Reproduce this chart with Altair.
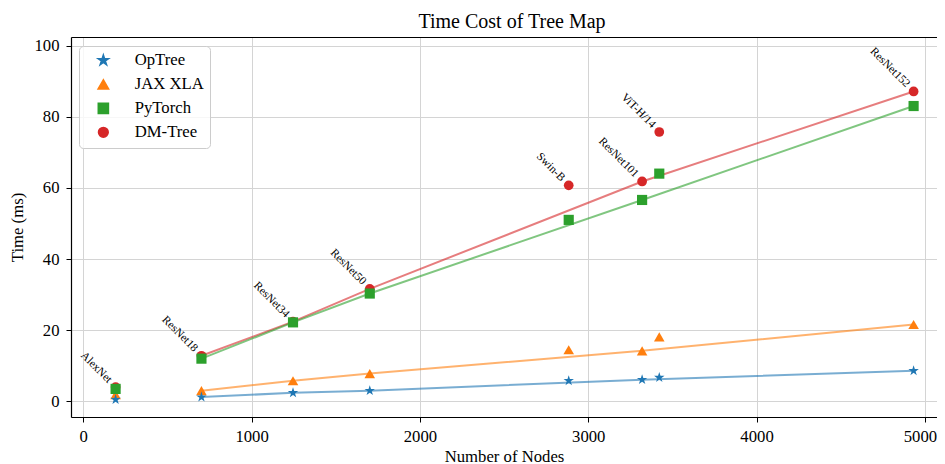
import altair as alt
import pandas as pd

# ---- data ----
models = ["AlexNet", "ResNet18", "ResNet34", "ResNet50", "Swin-B", "ResNet101", "ViT-H/14", "ResNet152"]
nodes = [192, 702, 1246, 1702, 2884, 3320, 3422, 4933]
optree = [0.5, 1.2, 2.4, 3.0, 5.8, 6.1, 6.7, 8.6]
jax_xla = [1.9, 3.0, 5.8, 7.8, 14.5, 14.2, 18.1, 21.6]
pytorch = [3.5, 12.0, 22.2, 30.3, 51.0, 56.6, 64.0, 83.0]
dmtree = [4.0, 12.8, 22.4, 31.6, 60.7, 61.8, 75.7, 87.1]
resnet_family = ["ResNet18", "ResNet34", "ResNet50", "ResNet101", "ResNet152"]

series = ["OpTree", "JAX XLA", "PyTorch", "DM-Tree"]
colors = ["#1f77b4", "#ff7f0e", "#2ca02c", "#d62728"]
values = {"OpTree": optree, "JAX XLA": jax_xla, "PyTorch": pytorch, "DM-Tree": dmtree}
draw_order = ["DM-Tree", "JAX XLA", "PyTorch", "OpTree"]

rows = []
for s in draw_order:
    for m, n, v in zip(models, nodes, values[s]):
        rows.append({"series": s, "marker": s, "msize": s, "model": m, "nodes": n, "time": v,
                     "resnet": m in resnet_family})
df = pd.DataFrame(rows)

FONT = "Liberation Serif"
FS = 16.7


def star_path(r):
    pts = [(0, -1), (0.2233, -0.3074), (0.9511, -0.309), (0.3614, 0.1174), (0.5878, 0.809),
           (0, 0.38), (-0.5878, 0.809), (-0.3614, 0.1174), (-0.9511, -0.309), (-0.2233, -0.3074)]
    return "M" + "L".join(f"{x * r:.4f},{y * r:.4f}" for x, y in pts) + "Z"


STAR = star_path(1.0)
shape_range = [STAR, "triangle-up", "square", "circle"]
size_range = [120, 95, 70, 72]

# legend symbols: a thin filled bar (the line) + the marker
LINE = "M-2.3,-0.13L2.3,-0.13L2.3,0.13L-2.3,0.13Z"
leg_paths = {
    "OpTree": LINE + star_path(0.9),
    "JAX XLA": LINE + "M0,-0.8L0.75,0.55L-0.75,0.55Z",
    "PyTorch": LINE + "M-0.64,-0.64L0.64,-0.64L0.64,0.64L-0.64,0.64Z",
    "DM-Tree": LINE + "M0.7,0A0.7,0.7,0,1,1,-0.7,0A0.7,0.7,0,1,1,0.7,0Z",
}
expr = ""
for s in series[:-1]:
    expr += f"datum.value === '{s}' ? '{leg_paths[s]}' : "
expr += f"'{leg_paths[series[-1]]}'"

color_scale = alt.Scale(domain=series, range=colors)

legend = alt.Legend(
    title=None, orient="none", legendX=8, legendY=9,
    labelFont=FONT, labelFontSize=FS, labelColor="black", labelLimit=300,
    symbolSize=256, symbolOffset=10, labelOffset=23,
    padding=6, rowPadding=6, cornerRadius=4,
    strokeColor="#cccccc", fillColor="rgba(255,255,255,0.8)",
    symbolType={"expr": expr},
    symbolOpacity=1,
)

x_dom = alt.Scale(domain=[-73, 5072], nice=False, zero=False)
y_dom = alt.Scale(domain=[-4.4, 102.4], nice=False, zero=False)

axis_common = dict(
    labelFont=FONT, labelFontSize=FS, labelColor="black",
    titleFont=FONT, titleFontSize=FS, titleFontWeight="normal", titleColor="black",
    tickColor="black", tickSize=5, tickWidth=1,
    domainColor="black", domainWidth=1.2,
    grid=True, gridColor="#d4d4d4", gridWidth=1,
)

base = alt.Chart(df)

lines = base.transform_filter("datum.resnet").mark_line(strokeWidth=2, opacity=0.6).encode(
    x=alt.X("nodes:Q", scale=x_dom,
            axis=alt.Axis(orient="bottom", values=[0, 1000, 2000, 3000, 4000, 5000], format="d",
                          title="Number of Nodes", labelPadding=6, titlePadding=4,
                          labelOffset={"expr": "datum.value >= 5000 ? -5 : 0"},
                          **axis_common)),
    y=alt.Y("time:Q", scale=y_dom,
            axis=alt.Axis(values=[0, 20, 40, 60, 80, 100], format="d", title="Time (ms)",
                          labelPadding=7, titlePadding=7, **axis_common)),
    color=alt.Color("series:N", scale=color_scale, legend=legend),
    detail="series:N",
)

points = base.mark_point(filled=True, opacity=1).encode(
    x=alt.X("nodes:Q", scale=x_dom, axis=None),
    y=alt.Y("time:Q", scale=y_dom),
    color=alt.Color("series:N", scale=color_scale, legend=legend),
    shape=alt.Shape("marker:N", scale=alt.Scale(domain=series, range=shape_range), legend=None),
    size=alt.Size("msize:N", scale=alt.Scale(domain=series, range=size_range), legend=None),
)

labels = base.transform_filter("datum.series === 'DM-Tree'").mark_text(
    angle=45, align="right", baseline="middle", dx=-8, font=FONT, fontSize=11.5, color="black"
).encode(
    x=alt.X("nodes:Q", scale=x_dom,
            axis=alt.Axis(orient="top", labels=False, ticks=False, grid=False, title=None,
                          domainColor="black", domainWidth=1.2)),
    y=alt.Y("time:Q", scale=y_dom),
    text="model:N",
)

chart = alt.layer(lines, points, labels).resolve_axis(x="independent").properties(
    width=866, height=380,
    autosize=alt.AutoSizeParams(type="none"),
    padding={"left": 63, "top": 29, "right": 0, "bottom": 47},
    title=alt.TitleParams("Time Cost of Tree Map", font=FONT, fontSize=20, fontWeight="normal",
                          color="black", offset=5, dx=8),
).configure_view(stroke=None, fill="#f7f7f7").configure(background="white")

chart.save("out.html", embed_options={"renderer": "svg", "actions": False})
